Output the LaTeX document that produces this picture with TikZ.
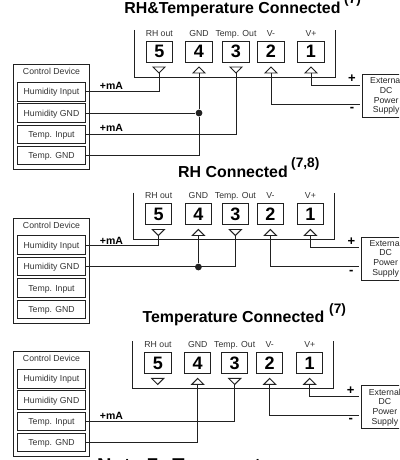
\documentclass[tikz,border=0pt]{standalone}
\usepackage{fontspec}
\setmainfont{Liberation Sans}
\definecolor{ink}{gray}{0.13}
\tikzset{
  x=1pt,y=-1pt,
  wire/.style={draw=ink,line width=0.95pt},
  ctl/.style={draw=ink,line width=0.95pt,minimum width=68.4pt,inner sep=0pt,text height=6.2pt,text depth=0pt,font=\fontsize{8.7}{10}\selectfont,text=black!80},
  outer/.style={draw=ink,line width=0.95pt,minimum width=76.4pt,minimum height=104.7pt,inner sep=0pt},
  term/.style={draw=ink,line width=0.95pt,minimum width=26.5pt,minimum height=21pt,inner sep=0pt,font=\fontsize{18}{19}\bfseries\selectfont},
  lab/.style={inner sep=0pt,text height=6.2pt,text depth=0pt,font=\fontsize{8.7}{10}\selectfont,text=black!80},
  ma/.style={inner sep=0pt,font=\fontsize{10.5}{11}\bfseries\selectfont},
  sgn/.style={inner sep=0pt,font=\fontsize{13}{14}\bfseries\selectfont},
  ttl/.style={inner sep=0pt,font=\fontsize{15.9}{18}\bfseries\selectfont,anchor=base},
  sup/.style={inner sep=0pt,font=\fontsize{13.7}{15}\bfseries\selectfont,anchor=base west},
  note/.style={inner sep=0pt,font=\fontsize{20}{22}\bfseries\selectfont,anchor=base west},
  supply/.style={draw=ink,line width=0.95pt,minimum width=47.4pt,minimum height=43pt,inner sep=0pt,anchor=north west,align=center,font=\fontsize{8.7}{9.7}\selectfont,text=black!85},
  dotj/.style={circle,fill=ink,inner sep=0pt,minimum size=6.8pt},
  tri/.style={draw=ink,line width=0.95pt,fill=white,line join=miter}
}
% #1 prefix, #2 terminal dx, #3 terminal dy, #4 control dy
\newcommand{\panelparts}[4]{%
  \begin{scope}[shift={(#2,0)}]
  \coordinate (#1tl) at (134,30+#3);
  \coordinate (#1tr) at (335,30+#3);
  \coordinate (#1bl) at (134,77+#3);
  \coordinate (#1br) at (335,77+#3);
  \draw[wire,line join=miter] (#1tl) -- (#1bl) -- (#1br) -- (#1tr);
  \node[term] (#1t5) at (159.3,51.5+#3) {5};
  \node[term] (#1t4) at (199,51.5+#3) {4};
  \node[term] (#1t3) at (236,51.5+#3) {3};
  \node[term] (#1t2) at (271,51.5+#3) {2};
  \node[term] (#1t1) at (311,51.5+#3) {1};
  \node[lab] (#1l5) at (159.3,33+#3) {RH out};
  \node[lab] (#1l4) at (199,33+#3) {GND};
  \node[lab] (#1l3) at (236,33+#3) {Temp. Out};
  \node[lab] (#1l2) at (271,33+#3) {V-};
  \node[lab] (#1l1) at (311,33+#3) {V+};
  \draw[tri] (153,67+#3) -- (165,67+#3) -- (159,73+#3) -- cycle;
  \draw[tri] (193,73+#3) -- (205,73+#3) -- (199,67+#3) -- cycle;
  \draw[tri] (230,67+#3) -- (242,67+#3) -- (236,73+#3) -- cycle;
  \draw[tri] (265,73+#3) -- (277,73+#3) -- (271,67+#3) -- cycle;
  \draw[tri] (305,73+#3) -- (317,73+#3) -- (311,67+#3) -- cycle;
  \coordinate (#1p5) at (159,73+#3);
  \coordinate (#1p4) at (199,73+#3);
  \coordinate (#1p3) at (236,73+#3);
  \coordinate (#1p2) at (271,73+#3);
  \coordinate (#1p1) at (311,73+#3);
  \node[supply] (#1ext) at (362,74+#3) {External\\DC\\Power\\Supply};
  \node[sgn] (#1plus) at (352,79+#3) {+};
  \node[sgn] (#1minus) at (352,109.5+#3) {-};
  \coordinate (#1vp) at (360,85+#3);
  \coordinate (#1vm) at (360,104+#3);
  \draw[wire] (#1p1) |- (#1vp);
  \draw[wire] (#1p2) |- (#1vm);
  \end{scope}
  \node[outer] (#1c) at (51.5,117.3+#4) {};
  \node[lab] (#1cl) at (51.5,71.7+#4) {Control Device};
  \node[ctl,minimum height=19pt] (#1hi) at (51.5,91.8+#4) {Humidity Input};
  \node[ctl,minimum height=18.6pt] (#1hg) at (51.5,113+#4) {Humidity GND};
  \node[ctl,minimum height=18.7pt] (#1ti) at (51.5,134.6+#4) {Temp. Input};
  \node[ctl,minimum height=18.3pt] (#1tg) at (51.5,155.8+#4) {Temp. GND};
}
\begin{document}
\begin{tikzpicture}
\useasboundingbox (0,0) rectangle (399,460);
\clip (0,0) rectangle (399,460);
% Panel 1
\node[ttl] (ta) at (232.5,14) {RH\&Temperature Connected};
\node[sup] (sa) at (344,4) {(7)};
\panelparts{a}{0}{0}{0}
\node[dotj] (aj) at (199,113) {};
\draw[wire] (ahi.east) -| (ap5);
\draw[wire] (ahg.east) -- (aj);
\draw[wire] (ap4) -- (aj);
\draw[wire] (aj) |- (atg.east);
\draw[wire] (ati.east) -| (ap3);
\node[ma] (ama) at (111.5,86) {+mA};
\node[ma] (amb) at (111.5,128) {+mA};
% Panel 2
\node[ttl] (tb) at (233,177) {RH Connected};
\node[sup] (sb) at (291,167.5) {(7,8)};
\panelparts{b}{-0.6}{162.5}{153.6}
\node[dotj] (bj) at (198.4,267) {};
\draw[wire] (bhi.east) -| (bp5);
\draw[wire] (bhg.east) -| (bp3);
\draw[wire] (bp4) -- (bj);
\node[ma] (bma) at (111.5,240.5) {+mA};
% Panel 3
\node[ttl] (tc) at (233.4,322.7) {Temperature Connected};
\node[sup] (sc) at (329,313) {(7)};
\panelparts{c}{-1.3}{311.4}{287}
\draw[wire] (cti.east) -| (cp3);
\draw[wire] (ctg.east) -| (cp4);
\node[ma] (cma) at (111.5,415.5) {+mA};
% Note line, cut by the lower edge as in the reference
\node[note] (nt) at (97,472.3) {Note 7: Temperature};
\end{tikzpicture}
\end{document}
